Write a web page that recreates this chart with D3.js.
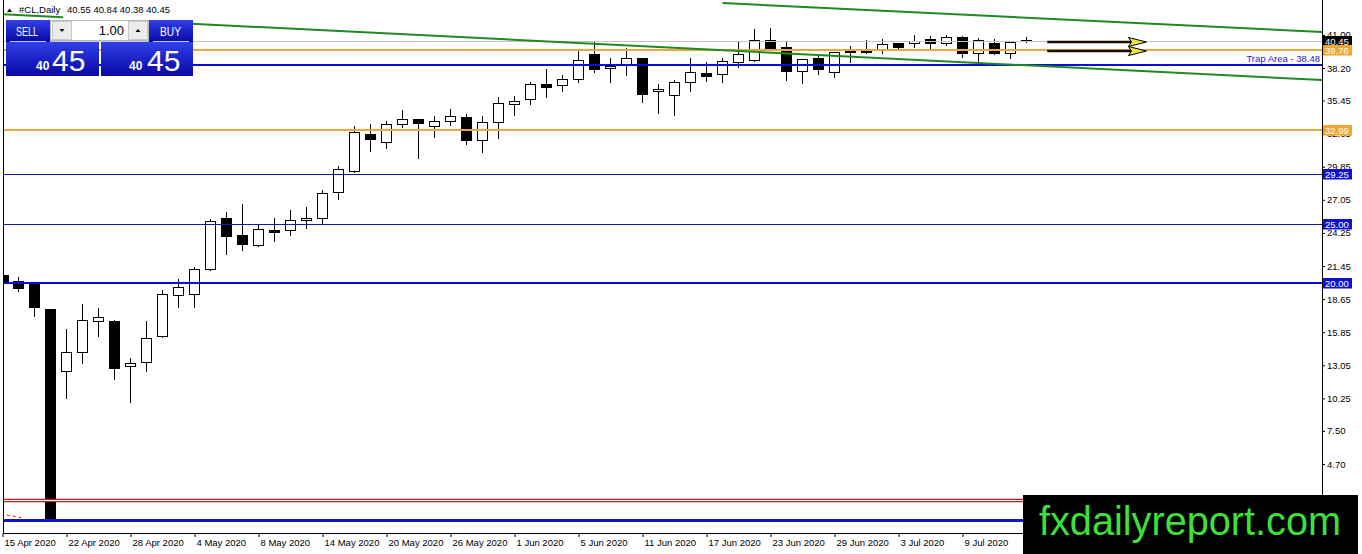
<!DOCTYPE html>
<html>
<head>
<meta charset="utf-8">
<script src="https://d3js.org/d3.v7.min.js"></script>
<style>
  body { margin: 0; background: #fff; overflow: hidden; }
  svg { display: block; }
  text { font-family: "Liberation Sans", Arial, sans-serif; }
</style>
</head>
<body>
<script>
// #CL Daily candles, 15 Apr 2020 .. 15 Jul 2020 (one bar per trading day)
const dateLabels = ["15 Apr 2020", "22 Apr 2020", "28 Apr 2020", "4 May 2020", "8 May 2020",
  "14 May 2020", "20 May 2020", "26 May 2020", "1 Jun 2020", "5 Jun 2020", "11 Jun 2020",
  "17 Jun 2020", "23 Jun 2020", "29 Jun 2020", "3 Jul 2020", "9 Jul 2020"];

const opens = [20.71, 20.18, 19.99, 17.79, 12.54, 14.15, 16.77, 16.80, 12.99, 13.30,
  15.55, 18.97, 19.05, 21.17, 25.51, 24.05, 23.25, 24.49, 24.47, 25.32,
  25.48, 27.68, 29.51, 32.62, 31.91, 33.44, 33.86, 33.27, 33.72, 34.05,
  32.08, 33.61, 35.13, 35.55, 36.82, 36.74, 37.24, 39.36, 38.17, 38.51,
  39.02, 36.23, 35.89, 36.99, 37.75, 37.67, 38.73, 38.88, 40.57, 39.95,
  37.97, 39.02, 37.89, 39.58, 39.58, 39.78, 40.29, 40.29, 40.63, 40.34,
  40.85, 39.49, 40.34, 39.49, 40.55];
const highs = [20.95, 20.49, 20.13, 17.85, 16.09, 18.23, 17.90, 16.88, 13.64, 16.80,
  19.42, 20.35, 21.39, 25.43, 26.02, 26.67, 24.92, 25.51, 26.19, 26.44,
  27.88, 29.91, 33.29, 33.46, 33.72, 34.65, 33.92, 34.14, 34.71, 34.28,
  34.14, 35.72, 35.83, 37.04, 38.09, 37.61, 39.64, 40.43, 39.02, 39.87,
  39.07, 36.87, 37.18, 39.02, 38.68, 39.02, 40.48, 41.47, 41.56, 40.51,
  38.98, 39.22, 39.58, 40.06, 40.57, 40.65, 40.35, 41.00, 40.93, 41.00,
  40.91, 40.71, 40.63, 40.45, 40.84];
const lows = [19.16, 19.36, 17.24, 0.05, 10.26, 13.27, 15.53, 11.86, 9.97, 12.59,
  15.42, 18.01, 18.01, 21.10, 22.49, 22.83, 23.17, 23.59, 24.07, 24.69,
  25.11, 27.14, 29.43, 31.20, 31.46, 33.18, 30.61, 32.39, 33.38, 31.75,
  31.07, 32.30, 34.22, 35.18, 35.77, 36.28, 36.99, 37.89, 36.99, 37.61,
  35.35, 34.42, 34.22, 36.25, 37.10, 37.04, 38.31, 38.80, 39.80, 37.18,
  36.96, 37.69, 37.46, 38.73, 39.50, 39.44, 39.78, 40.00, 39.87, 40.15,
  39.11, 38.60, 39.38, 39.02, 40.38];
const closes = [20.01, 19.62, 18.01, 0.15, 14.15, 16.85, 17.11, 12.84, 13.22, 15.33,
  19.05, 19.65, 21.17, 25.23, 24.01, 23.34, 24.55, 24.35, 25.32, 25.51,
  27.60, 29.63, 32.79, 32.22, 33.44, 33.86, 33.52, 33.69, 34.14, 32.13,
  33.61, 35.21, 35.43, 36.82, 36.62, 37.24, 38.85, 38.09, 38.37, 39.02,
  36.03, 36.42, 36.99, 37.84, 37.55, 38.79, 39.38, 40.57, 39.87, 37.97,
  38.94, 38.09, 39.53, 39.64, 39.64, 40.21, 40.00, 40.51, 40.34, 40.85,
  39.49, 40.57, 39.49, 40.37, 40.45];

const priceTicks = [41.00, 38.20, 35.45, 32.65, 29.85, 27.05, 24.25, 21.45, 18.65,
  15.85, 13.05, 10.25, 7.50, 4.70];

// horizontal objects
const bidPrice = 40.45;
const orangeLevels = [39.76, 32.99];
const blueLevels = [38.48, 29.25, 25.00, 20.00, 0.00];
const redLevel = 1.65;
const trapLevel = 38.48;

// channel lines and arrows, as [bar index, price]
const channelUpper = [[45.0, 43.70], [82.5, 41.25]];
const channelLower = [[-0.1, 42.75], [82.5, 37.18]];
const redDash = [[-0.1, 0.47], [1.3, 0.13]];
const arrowPrices = [40.38, 39.62];
const arrowSpan = [65.3, 71.5];

const W = 1362, H = 554;
const plotLeft = 3, plotRight = 1322, plotBottom = 533;

const x = d3.scaleLinear().domain([0, 82.47]).range([2.5, plotRight]);
const y = d3.scaleLinear().domain([-1.14, 43.70]).range([plotBottom, 3]);

const svg = d3.select("body").append("svg")
  .attr("width", W).attr("height", H);

const defs = svg.append("defs");
defs.append("clipPath").attr("id", "plotclip")
  .append("rect").attr("x", plotLeft).attr("y", 0)
  .attr("width", plotRight - plotLeft).attr("height", plotBottom);
const grad = defs.append("linearGradient").attr("id", "btn")
  .attr("x1", 0).attr("y1", 0).attr("x2", 0).attr("y2", 1);
grad.append("stop").attr("offset", "0%").attr("stop-color", "#3040e8");
grad.append("stop").attr("offset", "100%").attr("stop-color", "#0808a4");

// ---- candles
const bars = opens.map((o, i) => ({i, o, h: highs[i], l: lows[i], c: closes[i]}));
const candles = svg.append("g").attr("clip-path", "url(#plotclip)")
  .attr("shape-rendering", "crispEdges");

const cg = candles.selectAll("g").data(bars).join("g");
cg.append("line")
  .attr("x1", d => Math.round(x(d.i)) + 0.5).attr("x2", d => Math.round(x(d.i)) + 0.5)
  .attr("y1", d => Math.round(y(d.h))).attr("y2", d => Math.round(y(d.l)) + 1)
  .attr("stroke", "#000");
cg.append("rect")
  .attr("x", d => Math.round(x(d.i)) - 4.5)
  .attr("y", d => Math.round(y(Math.max(d.o, d.c))) + 0.5)
  .attr("width", 10)
  .attr("height", d => Math.max(1, Math.round(y(Math.min(d.o, d.c))) - Math.round(y(Math.max(d.o, d.c)))))
  .attr("fill", d => d.c >= d.o ? "#fff" : "#000")
  .attr("stroke", "#000");

// ---- objects
const objs = svg.append("g").attr("clip-path", "url(#plotclip)");

function hline(v, color, width) {
  const py = width % 2 ? Math.round(y(v)) + 0.5 : Math.round(y(v));
  objs.append("line")
    .attr("x1", plotLeft).attr("x2", plotRight)
    .attr("y1", py).attr("y2", py)
    .attr("stroke", color).attr("stroke-width", width);
}

hline(bidPrice, "#c4c4c4", 1);
const orangeWidths = [2, 2];
orangeLevels.forEach((v, k) => hline(v, "#eaa83c", orangeWidths[k]));
const blueColors = ["#0c0cd8", "#1818a8", "#1818a8", "#0c0cd8", "#0c14d0"];
const blueWidths = [2, 1, 1, 2, 3];
blueLevels.forEach((v, k) => hline(v, blueColors[k], blueWidths[k]));
hline(redLevel, "#c01c1c", 3.5);
hline(redLevel, "#fff", 1.2);

const line = d3.line().x(d => x(d[0])).y(d => y(d[1]));
objs.append("path").attr("d", line(channelUpper))
  .attr("fill", "none").attr("stroke", "#1f8a1f").attr("stroke-width", 2);
objs.append("path").attr("d", line(channelLower))
  .attr("fill", "none").attr("stroke", "#1f8a1f").attr("stroke-width", 2);
objs.append("path").attr("d", line(redDash))
  .attr("fill", "none").attr("stroke", "#d02020").attr("stroke-width", 1)
  .attr("stroke-dasharray", "3,3");

objs.append("text")
  .attr("x", plotRight - 2).attr("y", y(trapLevel) - 3)
  .attr("text-anchor", "end").attr("font-size", 9.5).attr("fill", "#2222d8")
  .text("Trap Area - " + trapLevel.toFixed(2));

// arrows
arrowPrices.forEach(p => {
  const ay = Math.round(y(p));
  const x0 = x(arrowSpan[0]), x1 = x(arrowSpan[1]);
  objs.append("line")
    .attr("x1", x0).attr("x2", x1 - 14).attr("y1", ay).attr("y2", ay)
    .attr("stroke", "#1a0a00").attr("stroke-width", 2.5);
  objs.append("path")
    .attr("d", `M${x1},${ay} L${x1 - 18},${ay - 4.5} L${x1 - 15},${ay} L${x1 - 18},${ay + 4.5} Z`)
    .attr("fill", "#f2e23a").attr("stroke", "#000").attr("stroke-width", 1)
    .attr("stroke-linejoin", "miter");
});

// ---- axes
const font = "'Liberation Sans', Arial, sans-serif";
const yAxis = d3.axisRight(y).tickValues(priceTicks)
  .tickFormat(d3.format(".2f")).tickSize(3).tickPadding(2).tickSizeOuter(0);
svg.append("g").attr("transform", `translate(${plotRight},0)`)
  .call(yAxis)
  .call(g => g.select(".domain").remove())
  .attr("font-family", font).attr("font-size", 9.5)
  .call(g => g.selectAll("text").attr("fill", "#000"));

const xAxis = d3.axisBottom(x)
  .tickValues(d3.range(0, dateLabels.length * 4, 4))
  .tickFormat((d, k) => dateLabels[k]).tickSize(4).tickSizeOuter(0);
svg.append("g").attr("transform", `translate(0,${plotBottom})`)
  .call(xAxis)
  .call(g => g.select(".domain").remove())
  .attr("font-family", font).attr("font-size", 9.5)
  .call(g => g.selectAll("text").attr("text-anchor", "start")
    .attr("x", 1.5).attr("y", 6).attr("fill", "#000"));

// frame
const frame = svg.append("g").attr("stroke", "#000").attr("shape-rendering", "crispEdges");
frame.append("line").attr("x1", plotLeft + 0.5).attr("x2", plotLeft + 0.5).attr("y1", 0).attr("y2", plotBottom + 0.5);
frame.append("line").attr("x1", plotLeft).attr("x2", plotRight + 1).attr("y1", plotBottom + 0.5).attr("y2", plotBottom + 0.5);
frame.append("line").attr("x1", plotRight + 0.5).attr("x2", plotRight + 0.5).attr("y1", 0).attr("y2", plotBottom + 0.5);

// price markers on the axis
const markers = [
  {v: bidPrice, bg: "#000", label: true},
  {v: orangeLevels[0], bg: "#f0a630", label: true},
  {v: orangeLevels[1], bg: "#f0a630", label: true},
  {v: blueLevels[1], bg: "#1010d0", label: true},
  {v: blueLevels[2], bg: "#1010d0", label: true},
  {v: blueLevels[3], bg: "#1010d0", label: true},
  {v: redLevel, bg: "#c01c1c", label: false}
];
const mg = svg.append("g").selectAll("g").data(markers).join("g")
  .attr("transform", d => `translate(${plotRight + 1},${Math.round(y(d.v))})`);
mg.append("rect").attr("x", 0).attr("y", -5).attr("width", 29).attr("height", 10.5)
  .attr("fill", d => d.bg);
mg.filter(d => d.label).append("text").attr("x", 2).attr("y", 4).attr("font-size", 9.5).attr("fill", "#fff")
  .text(d => d.v.toFixed(2));

// ---- header and trade panel
svg.append("rect").attr("x", 63).attr("y", 3).attr("width", 90).attr("height", 17).attr("fill", "#fff");
svg.append("path").attr("d", "M7,12 L9.5,8.5 L12,12 Z").attr("fill", "#000");
svg.append("text").attr("x", 19).attr("y", 13).attr("font-size", 9.5).attr("fill", "#000")
  .text("#CL,Daily");
svg.append("text").attr("x", 67).attr("y", 13).attr("font-size", 9.5).attr("fill", "#000")
  .text([opens[64], highs[64], lows[64], closes[64]].map(d => d.toFixed(2)).join(" "));

const panel = svg.append("g");
panel.append("rect").attr("x", 6).attr("y", 20).attr("width", 44).attr("height", 22).attr("fill", "url(#btn)");
panel.append("rect").attr("x", 149).attr("y", 20).attr("width", 44).attr("height", 22).attr("fill", "url(#btn)");
panel.append("rect").attr("x", 6).attr("y", 42).attr("width", 93).attr("height", 34).attr("fill", "url(#btn)");
panel.append("rect").attr("x", 101).attr("y", 42).attr("width", 92).attr("height", 34).attr("fill", "url(#btn)");
panel.append("line").attr("x1", 10).attr("x2", 46).attr("y1", 41.5).attr("y2", 41.5).attr("stroke", "#c8c8f0");
panel.append("line").attr("x1", 153).attr("x2", 189).attr("y1", 41.5).attr("y2", 41.5).attr("stroke", "#c8c8f0");
// lot spinner
panel.append("rect").attr("x", 50.5).attr("y", 20.5).attr("width", 98).attr("height", 20).attr("fill", "#fff").attr("stroke", "#b8b8b8");
panel.append("rect").attr("x", 52.5).attr("y", 21.5).attr("width", 19).attr("height", 18).attr("fill", "#ececec").attr("stroke", "#c8c8c8");
panel.append("rect").attr("x", 128.5).attr("y", 21.5).attr("width", 19).attr("height", 18).attr("fill", "#ececec").attr("stroke", "#c8c8c8");
panel.append("path").attr("d", "M59.5,29 L64.5,29 L62,32 Z").attr("fill", "#000");
panel.append("path").attr("d", "M135.5,32 L140.5,32 L138,29 Z").attr("fill", "#000");
panel.append("text").attr("x", 124).attr("y", 35).attr("text-anchor", "end")
  .attr("font-size", 13).attr("fill", "#000").text("1.00");
panel.append("text").attr("x", 16).attr("y", 36).attr("font-size", 13).attr("fill", "#fff")
  .attr("textLength", 22).attr("lengthAdjust", "spacingAndGlyphs").text("SELL");
panel.append("text").attr("x", 160).attr("y", 36).attr("font-size", 13).attr("fill", "#fff")
  .attr("textLength", 21).attr("lengthAdjust", "spacingAndGlyphs").text("BUY");
const quote = closes[64].toFixed(2).split(".");
[[36, 52], [129, 147]].forEach(([sx, bx]) => {
  panel.append("text").attr("x", sx).attr("y", 70).attr("font-size", 12).attr("font-weight", "bold")
    .attr("fill", "#fff").text(quote[0]);
  panel.append("text").attr("x", bx).attr("y", 71).attr("font-size", 30)
    .attr("fill", "#fff").text(quote[1]);
});

// ---- watermark box
svg.append("rect").attr("x", 1023).attr("y", 495).attr("width", 335).attr("height", 59).attr("fill", "#000");
svg.append("text").attr("x", 1039).attr("y", 535).attr("font-size", 40).attr("fill", "#3ee03a")
  .attr("textLength", 302).attr("lengthAdjust", "spacingAndGlyphs")
  .text("fxdailyreport.com");
</script>
</body>
</html>
